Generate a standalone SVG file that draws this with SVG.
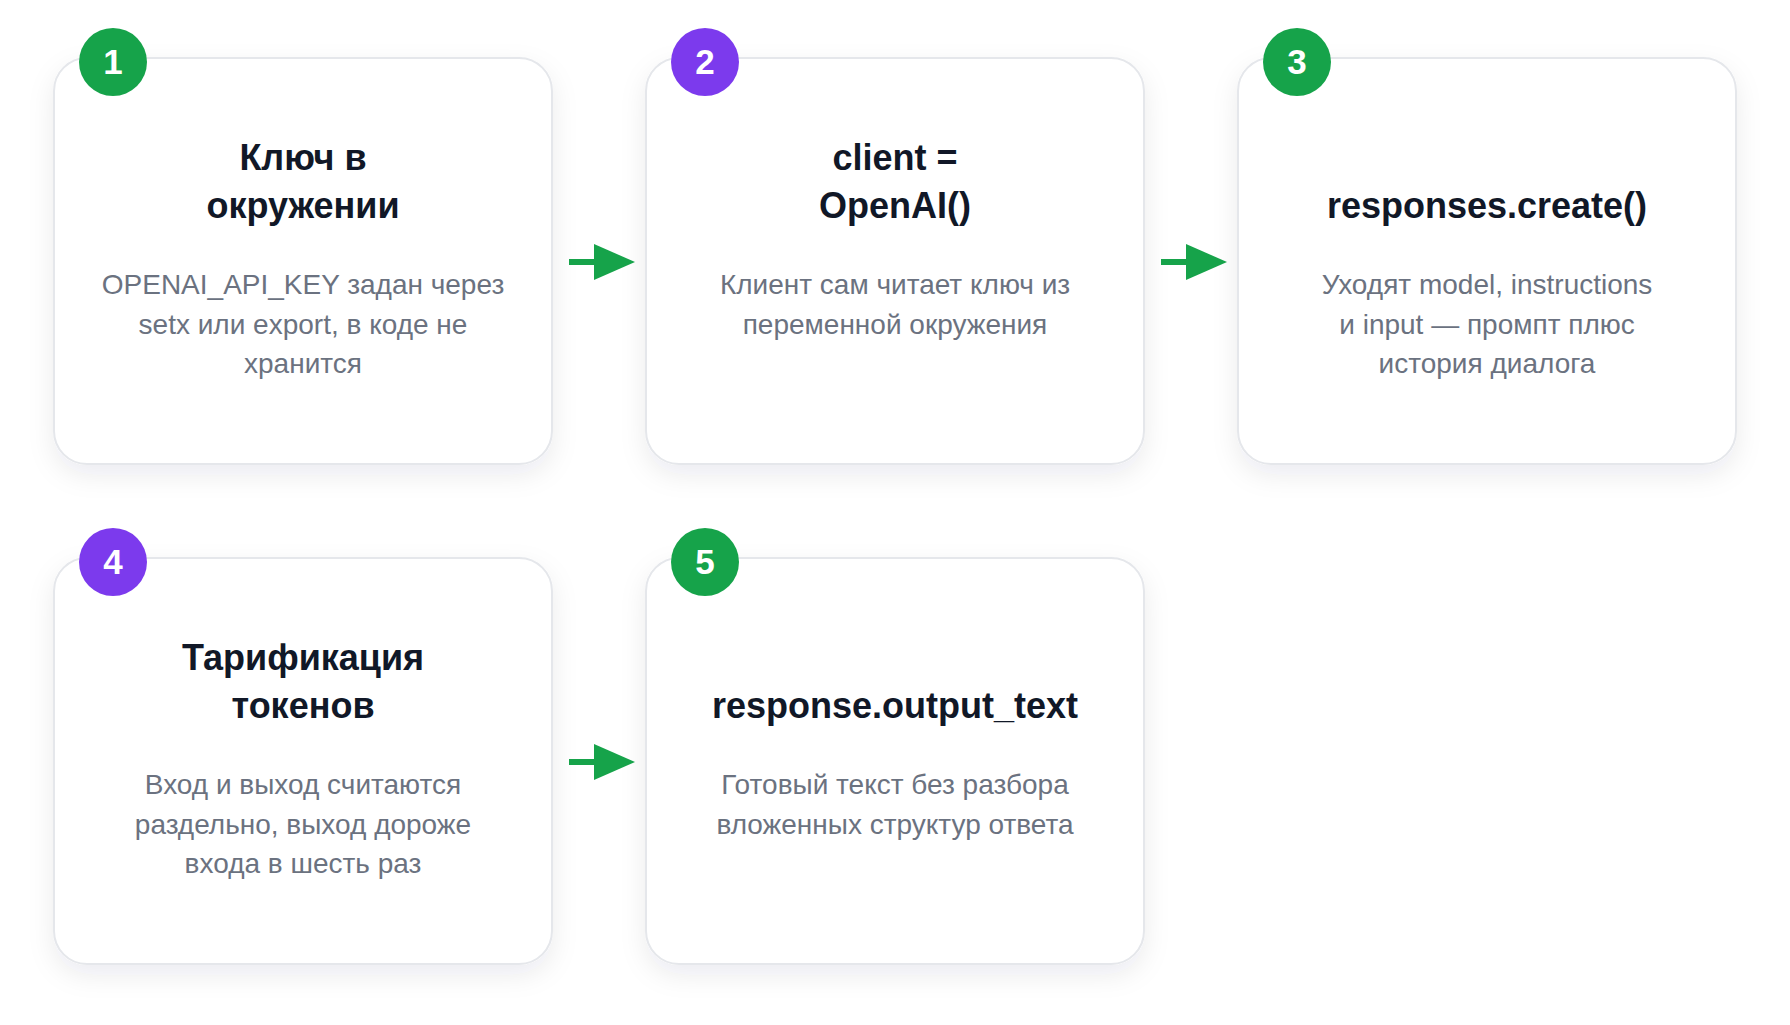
<svg xmlns="http://www.w3.org/2000/svg" width="1790" height="1025" viewBox="0 0 1790 1025">
<defs>
<filter id="sh" x="-20%" y="-20%" width="140%" height="150%">
<feDropShadow dx="0" dy="10" stdDeviation="13" flood-color="#1f2937" flood-opacity="0.08"/>
</filter>
<marker id="ah" viewBox="0 0 41 36" refX="0" refY="18" markerWidth="41" markerHeight="36" markerUnits="userSpaceOnUse" orient="auto">
<path d="M0,0 L41,18 L0,36 Z" fill="#16a34a"/>
</marker>
</defs>
<style>
.card{fill:#ffffff;stroke:#e5e7eb;stroke-width:2;filter:url(#sh)}
.title{font-family:"Liberation Sans",Arial,sans-serif;font-weight:bold;font-size:36px;fill:#111827;text-anchor:middle}
.desc{font-family:"Liberation Sans",Arial,sans-serif;font-size:28px;fill:#6b7280;text-anchor:middle}
.num{font-family:"Liberation Sans",Arial,sans-serif;font-weight:bold;font-size:35px;fill:#ffffff;text-anchor:middle}
.g{fill:#16a34a}
.p{fill:#7c3aed}
.conn{stroke:#16a34a;stroke-width:6;fill:none}
</style>
<rect width="1790" height="1025" fill="#ffffff"/>

<g id="node1">
<rect class="card" x="54" y="58" width="498" height="406" rx="33"/>
<circle class="g" cx="113" cy="62" r="34"/>
<text class="num" x="113" y="74">1</text>
<text class="title" x="303" y="170">Ключ в</text>
<text class="title" x="303" y="218">окружении</text>
<text class="desc" x="303" y="294">OPENAI_API_KEY задан через</text>
<text class="desc" x="303" y="334">setx или export, в коде не</text>
<text class="desc" x="303" y="373">хранится</text>
</g>

<g id="node2">
<rect class="card" x="646" y="58" width="498" height="406" rx="33"/>
<circle class="p" cx="705" cy="62" r="34"/>
<text class="num" x="705" y="74">2</text>
<text class="title" x="895" y="170">client =</text>
<text class="title" x="895" y="218">OpenAI()</text>
<text class="desc" x="895" y="294">Клиент сам читает ключ из</text>
<text class="desc" x="895" y="334">переменной окружения</text>
</g>

<g id="node3">
<rect class="card" x="1238" y="58" width="498" height="406" rx="33"/>
<circle class="g" cx="1297" cy="62" r="34"/>
<text class="num" x="1297" y="74">3</text>
<text class="title" x="1487" y="218">responses.create()</text>
<text class="desc" x="1487" y="294">Уходят model, instructions</text>
<text class="desc" x="1487" y="334">и input — промпт плюс</text>
<text class="desc" x="1487" y="373">история диалога</text>
</g>

<g id="node4">
<rect class="card" x="54" y="558" width="498" height="406" rx="33"/>
<circle class="p" cx="113" cy="562" r="34"/>
<text class="num" x="113" y="574">4</text>
<text class="title" x="303" y="670">Тарификация</text>
<text class="title" x="303" y="718">токенов</text>
<text class="desc" x="303" y="794">Вход и выход считаются</text>
<text class="desc" x="303" y="834">раздельно, выход дороже</text>
<text class="desc" x="303" y="873">входа в шесть раз</text>
</g>

<g id="node5">
<rect class="card" x="646" y="558" width="498" height="406" rx="33"/>
<circle class="g" cx="705" cy="562" r="34"/>
<text class="num" x="705" y="574">5</text>
<text class="title" x="895" y="718">response.output_text</text>
<text class="desc" x="895" y="794">Готовый текст без разбора</text>
<text class="desc" x="895" y="834">вложенных структур ответа</text>
</g>

<g id="connectors">
<path class="conn" d="M569,262 L594,262" marker-end="url(#ah)"/>
<path class="conn" d="M1161,262 L1186,262" marker-end="url(#ah)"/>
<path class="conn" d="M569,762 L594,762" marker-end="url(#ah)"/>
</g>
</svg>
